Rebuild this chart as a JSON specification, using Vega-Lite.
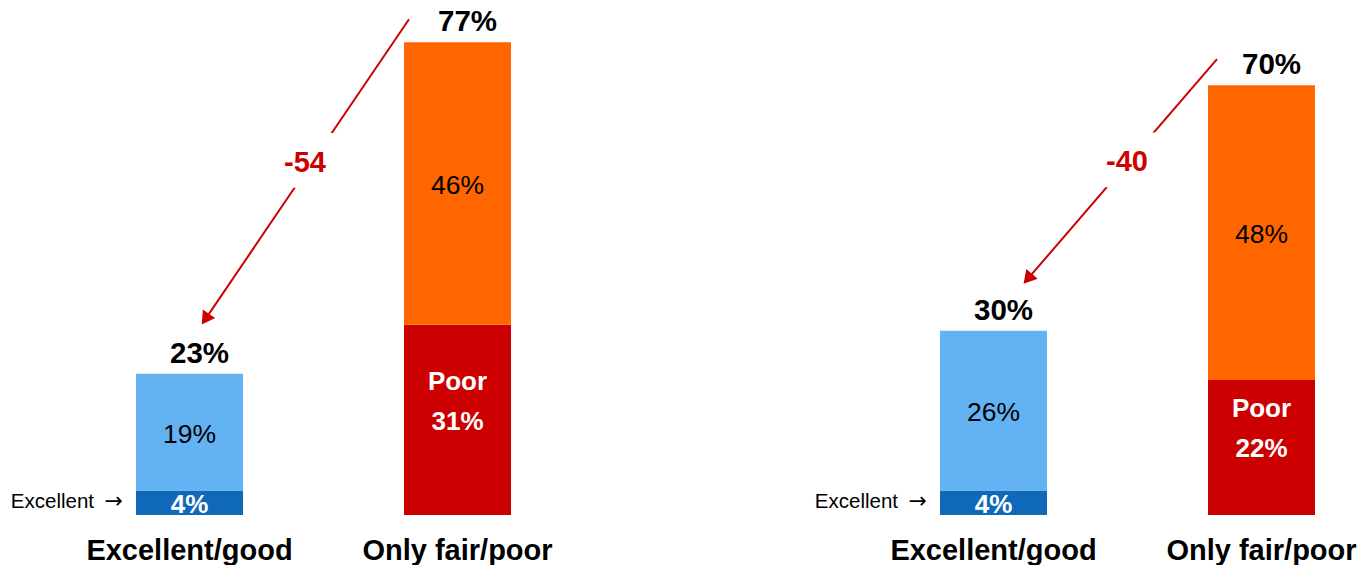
{
  "$schema": "https://vega.github.io/schema/vega-lite/v6.json",
  "width": 1362,
  "height": 515,
  "padding": 0,
  "background": "white",
  "config": {"view": {"stroke": null}, "font": "Liberation Sans"},
  "datasets": {
    "bars": [
      {"slot": "L1", "segment": "Excellent", "tier": "bottom", "value": 4, "label": "4%"},
      {"slot": "L1", "segment": "Good", "tier": "top", "value": 19, "label": "19%"},
      {"slot": "L2", "segment": "Poor", "tier": "bottom", "value": 31, "label": "31%"},
      {"slot": "L2", "segment": "Fair", "tier": "top", "value": 46, "label": "46%"},
      {"slot": "R1", "segment": "Excellent", "tier": "bottom", "value": 4, "label": "4%"},
      {"slot": "R1", "segment": "Good", "tier": "top", "value": 26, "label": "26%"},
      {"slot": "R2", "segment": "Poor", "tier": "bottom", "value": 22, "label": "22%"},
      {"slot": "R2", "segment": "Fair", "tier": "top", "value": 48, "label": "48%"}
    ],
    "changes": [
      {"panel": "L", "from": "L2", "to": "L1", "fromTotal": 77, "toTotal": 23, "change": "-54"},
      {"panel": "R", "from": "R2", "to": "R1", "fromTotal": 70, "toTotal": 30, "change": "-40"}
    ]
  },
  "layer": [
    {
      "data": {"name": "bars"},
      "transform": [
        {"stack": "value", "groupby": ["slot"], "sort": [{"field": "tier", "order": "ascending"}], "as": ["v0", "v1"]}
      ],
      "mark": {"type": "bar"},
      "encoding": {
        "x": {
          "field": "slot", "type": "nominal", "title": null,
          "scale": {"domain": ["L1", "L2", "gap", "R1", "R2"], "paddingInner": 0.60075, "paddingOuter": 0.34142, "align": 0.7432},
          "axis": {
            "labelExpr": "datum.value == 'gap' ? '' : ((datum.value == 'L1' || datum.value == 'R1') ? 'Excellent/good' : 'Only fair/poor')",
            "labelFontSize": 29, "labelFontWeight": "bold", "labelColor": "#000000", "labelFont": "Liberation Sans",
            "labelPadding": 21, "labelLimit": 0, "labelAngle": 0, "labelOverlap": false,
            "domain": false, "ticks": false, "grid": false
          }
        },
        "y": {"field": "v0", "type": "quantitative", "scale": {"domain": [0, 83.88], "nice": false}, "axis": null},
        "y2": {"field": "v1"},
        "color": {
          "field": "segment", "type": "nominal",
          "scale": {"domain": ["Excellent", "Good", "Poor", "Fair"], "range": ["#1068B8", "#63B2F3", "#CC0000", "#FF6600"]},
          "legend": null
        }
      }
    },
    {
      "data": {"name": "bars"},
      "transform": [
        {"stack": "value", "groupby": ["slot"], "sort": [{"field": "tier", "order": "ascending"}], "as": ["v0", "v1"]},
        {"calculate": "(datum.v0 + datum.v1) / 2", "as": "mid"},
        {"filter": "datum.tier == 'top'"}
      ],
      "mark": {"type": "text", "fontSize": 26.5, "color": "#000000", "dy": 2.5},
      "encoding": {
        "x": {"field": "slot", "type": "nominal", "title": null, "scale": {"domain": ["L1", "L2", "gap", "R1", "R2"]}},
        "y": {"field": "mid", "type": "quantitative", "scale": {"domain": [0, 83.88], "nice": false}, "axis": null},
        "text": {"field": "label"}
      }
    },
    {
      "data": {"name": "bars"},
      "transform": [
        {"stack": "value", "groupby": ["slot"], "sort": [{"field": "tier", "order": "ascending"}], "as": ["v0", "v1"]},
        {"calculate": "(datum.v0 + datum.v1) / 2", "as": "mid"},
        {"filter": "datum.tier == 'bottom'"}
      ],
      "mark": {"type": "text", "fontSize": 26, "fontWeight": "bold", "color": "#FFFFFF", "dy": 2},
      "encoding": {
        "x": {"field": "slot", "type": "nominal", "title": null, "scale": {"domain": ["L1", "L2", "gap", "R1", "R2"]}},
        "y": {"field": "mid", "type": "quantitative", "scale": {"domain": [0, 83.88], "nice": false}, "axis": null},
        "text": {"field": "label"}
      }
    },
    {
      "data": {"name": "bars"},
      "transform": [
        {"stack": "value", "groupby": ["slot"], "sort": [{"field": "tier", "order": "ascending"}], "as": ["v0", "v1"]},
        {"calculate": "(datum.v0 + datum.v1) / 2", "as": "mid"},
        {"filter": "datum.segment == 'Poor'"}
      ],
      "mark": {"type": "text", "fontSize": 26, "fontWeight": "bold", "color": "#FFFFFF", "text": "Poor", "dy": -38},
      "encoding": {
        "x": {"field": "slot", "type": "nominal", "title": null, "scale": {"domain": ["L1", "L2", "gap", "R1", "R2"]}},
        "y": {"field": "mid", "type": "quantitative", "scale": {"domain": [0, 83.88], "nice": false}, "axis": null}
      }
    },
    {
      "data": {"name": "bars"},
      "transform": [
        {"stack": "value", "groupby": ["slot"], "sort": [{"field": "tier", "order": "ascending"}], "as": ["v0", "v1"]},
        {"calculate": "(datum.v0 + datum.v1) / 2", "as": "mid"},
        {"filter": "datum.segment == 'Excellent'"}
      ],
      "mark": {"type": "text", "fontSize": 20.5, "color": "#000000", "text": "Excellent", "align": "right", "dx": -42, "dy": -1},
      "encoding": {
        "x": {"field": "slot", "type": "nominal", "title": null, "bandPosition": 0, "scale": {"domain": ["L1", "L2", "gap", "R1", "R2"]}},
        "y": {"field": "mid", "type": "quantitative", "scale": {"domain": [0, 83.88], "nice": false}, "axis": null}
      }
    },
    {
      "data": {"name": "bars"},
      "transform": [
        {"stack": "value", "groupby": ["slot"], "sort": [{"field": "tier", "order": "ascending"}], "as": ["v0", "v1"]},
        {"calculate": "(datum.v0 + datum.v1) / 2", "as": "mid"},
        {"filter": "datum.segment == 'Excellent'"}
      ],
      "mark": {"type": "text", "fontSize": 22, "font": "DejaVu Sans", "color": "#000000", "text": "\u2192", "align": "right", "dx": -13, "dy": -2},
      "encoding": {
        "x": {"field": "slot", "type": "nominal", "title": null, "bandPosition": 0, "scale": {"domain": ["L1", "L2", "gap", "R1", "R2"]}},
        "y": {"field": "mid", "type": "quantitative", "scale": {"domain": [0, 83.88], "nice": false}, "axis": null}
      }
    },
    {
      "data": {"name": "bars"},
      "transform": [
        {"aggregate": [{"op": "sum", "field": "value", "as": "total"}], "groupby": ["slot"]},
        {"calculate": "datum.total + '%'", "as": "totalLabel"}
      ],
      "mark": {"type": "text", "fontSize": 29.5, "fontWeight": "bold", "color": "#000000", "baseline": "alphabetic", "dy": -11, "dx": 10},
      "encoding": {
        "x": {"field": "slot", "type": "nominal", "title": null, "scale": {"domain": ["L1", "L2", "gap", "R1", "R2"]}},
        "y": {"field": "total", "type": "quantitative", "scale": {"domain": [0, 83.88], "nice": false}, "axis": null},
        "text": {"field": "totalLabel"}
      }
    },
    {
      "data": {"name": "changes"},
      "transform": [{"filter": "datum.panel == 'L'"}],
      "layer": [
        {
          "mark": {"type": "rule", "color": "#CC0000", "strokeWidth": 2, "xOffset": -48.5, "yOffset": -23, "x2Offset": 17.1, "y2Offset": -56.4},
          "encoding": {
            "x": {"field": "from", "type": "nominal", "title": null, "scale": {"domain": ["L1", "L2", "gap", "R1", "R2"]}},
            "y": {"field": "fromTotal", "type": "quantitative", "scale": {"domain": [0, 83.88], "nice": false}, "axis": null},
            "x2": {"field": "to"},
            "y2": {"field": "toTotal"}
          }
        },
        {
          "mark": {"type": "point", "shape": "triangle", "filled": true, "color": "#CC0000", "opacity": 1, "size": 225, "angle": 214.1, "xOffset": 17.1, "yOffset": -56.4},
          "encoding": {
            "x": {"field": "to", "type": "nominal", "title": null, "scale": {"domain": ["L1", "L2", "gap", "R1", "R2"]}},
            "y": {"field": "toTotal", "type": "quantitative", "scale": {"domain": [0, 83.88], "nice": false}, "axis": null}
          }
        },
        {
          "mark": {"type": "point", "shape": "square", "filled": true, "color": "#FFFFFF", "opacity": 1, "size": 3000, "xOffset": 123, "yOffset": -213.5},
          "encoding": {
            "x": {"field": "to", "type": "nominal", "title": null, "scale": {"domain": ["L1", "L2", "gap", "R1", "R2"]}},
            "y": {"field": "toTotal", "type": "quantitative", "scale": {"domain": [0, 83.88], "nice": false}, "axis": null}
          }
        },
        {
          "mark": {"type": "text", "fontSize": 29, "fontWeight": "bold", "color": "#CC0000", "xOffset": 115.5, "yOffset": -211},
          "encoding": {
            "x": {"field": "to", "type": "nominal", "title": null, "scale": {"domain": ["L1", "L2", "gap", "R1", "R2"]}},
            "y": {"field": "toTotal", "type": "quantitative", "scale": {"domain": [0, 83.88], "nice": false}, "axis": null},
            "text": {"field": "change"}
          }
        }
      ]
    },
    {
      "data": {"name": "changes"},
      "transform": [{"filter": "datum.panel == 'R'"}],
      "layer": [
        {
          "mark": {"type": "rule", "color": "#CC0000", "strokeWidth": 2, "xOffset": -44.5, "yOffset": -26, "x2Offset": 35.7, "y2Offset": -53.6},
          "encoding": {
            "x": {"field": "from", "type": "nominal", "title": null, "scale": {"domain": ["L1", "L2", "gap", "R1", "R2"]}},
            "y": {"field": "fromTotal", "type": "quantitative", "scale": {"domain": [0, 83.88], "nice": false}, "axis": null},
            "x2": {"field": "to"},
            "y2": {"field": "toTotal"}
          }
        },
        {
          "mark": {"type": "point", "shape": "triangle", "filled": true, "color": "#CC0000", "opacity": 1, "size": 225, "angle": 220.7, "xOffset": 35.7, "yOffset": -53.6},
          "encoding": {
            "x": {"field": "to", "type": "nominal", "title": null, "scale": {"domain": ["L1", "L2", "gap", "R1", "R2"]}},
            "y": {"field": "toTotal", "type": "quantitative", "scale": {"domain": [0, 83.88], "nice": false}, "axis": null}
          }
        },
        {
          "mark": {"type": "point", "shape": "square", "filled": true, "color": "#FFFFFF", "opacity": 1, "size": 3000, "xOffset": 136.8, "yOffset": -171},
          "encoding": {
            "x": {"field": "to", "type": "nominal", "title": null, "scale": {"domain": ["L1", "L2", "gap", "R1", "R2"]}},
            "y": {"field": "toTotal", "type": "quantitative", "scale": {"domain": [0, 83.88], "nice": false}, "axis": null}
          }
        },
        {
          "mark": {"type": "text", "fontSize": 29, "fontWeight": "bold", "color": "#CC0000", "xOffset": 133.5, "yOffset": -169},
          "encoding": {
            "x": {"field": "to", "type": "nominal", "title": null, "scale": {"domain": ["L1", "L2", "gap", "R1", "R2"]}},
            "y": {"field": "toTotal", "type": "quantitative", "scale": {"domain": [0, 83.88], "nice": false}, "axis": null},
            "text": {"field": "change"}
          }
        }
      ]
    }
  ]
}
